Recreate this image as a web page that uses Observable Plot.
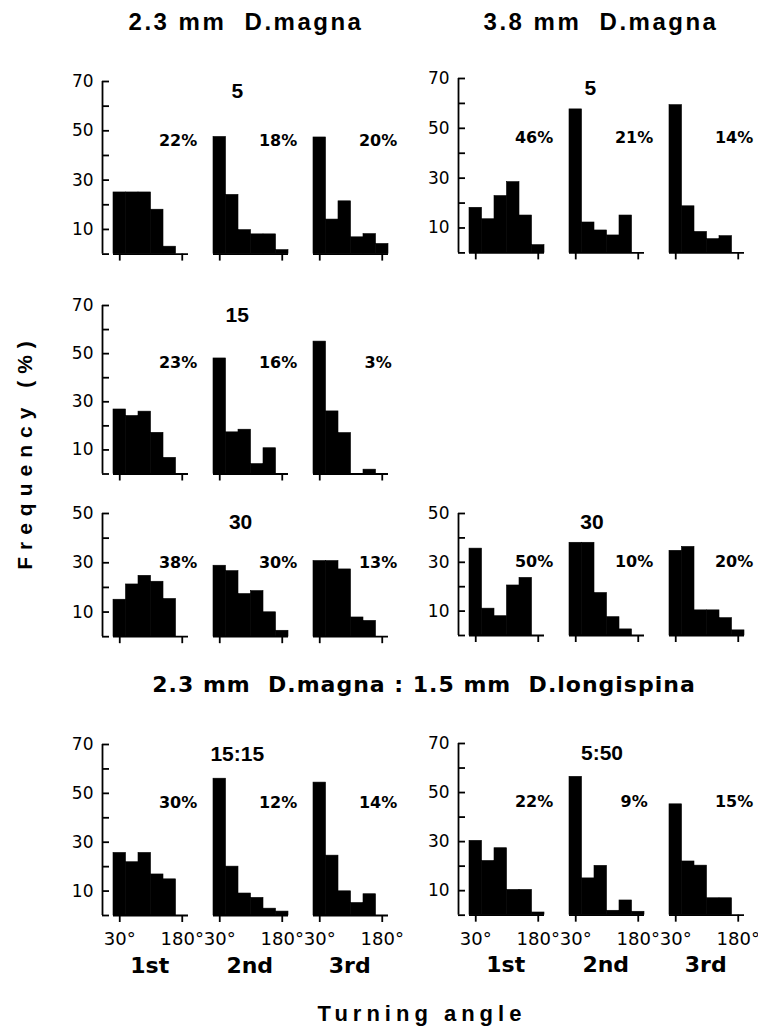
<!DOCTYPE html>
<html><head><meta charset="utf-8">
<script src="https://cdn.jsdelivr.net/npm/d3@7"></script>
<script src="https://cdn.jsdelivr.net/npm/@observablehq/plot@0.6"></script>
<style>
body{margin:0;background:#fff;}
#root{position:relative;width:758px;height:1031px;overflow:hidden;background:#fff;color:#000;}
.lbl{position:absolute;white-space:pre;font-weight:bold;line-height:1;transform:translate(-50%,-50%);}
.panel{position:absolute;}
.panel svg{max-width:none !important;}
</style></head><body><div id="root"></div>
<script>
// ---- data ----
const angles = [30, 60, 90, 120, 150, 180];
const turns = ["1st", "2nd", "3rd"];

const magna23_5  = [[25, 25, 25, 18, 3, 0], [47.5, 24, 9.7, 8, 8, 1.6], [47.3, 14, 21.4, 6.8, 8.1, 4.1]];
const magna38_5  = [[18.1, 13.5, 22.8, 28.4, 15, 3.1], [57.6, 12.2, 9, 7, 15, 0], [59.3, 18.7, 8.4, 5.5, 6.7, 0]];
const magna23_15 = [[26.8, 24.1, 25.9, 17.1, 6.7, 0], [48, 17.3, 18.4, 4.1, 10.7, 0], [55, 26, 17, 0, 1.8, 0]];
const magna23_30 = [[15, 21.2, 24.7, 22.3, 15.3, 0], [28.8, 26.6, 17.3, 18.5, 9.9, 2.4], [30.7, 30.7, 27.3, 7.8, 6.4, 0]];
const magna38_30 = [[35.6, 11, 7.9, 20.5, 23.6, 0], [38, 38, 17.4, 7.5, 2.5, 0], [34.7, 36.3, 10.3, 10.3, 7.1, 2.1]];
const mix15_15   = [[25.6, 21.8, 25.6, 16.8, 14.8, 0], [56, 20, 9, 7.2, 2.8, 1.6], [54.4, 24.5, 9.9, 5.1, 8.7, 0]];
const mix5_50    = [[30.3, 22.1, 27.3, 10.3, 10.3, 1.1], [56.4, 15, 20.1, 1.8, 6, 1.4], [45.2, 21.9, 20.2, 6.9, 6.9, 0]];

const pct23_5  = ["22%", "18%", "20%"];
const pct38_5  = ["46%", "21%", "14%"];
const pct23_15 = ["23%", "16%", "3%"];
const pct23_30 = ["38%", "30%", "13%"];
const pct38_30 = ["50%", "10%", "20%"];
const pct15_15 = ["30%", "12%", "14%"];
const pct5_50  = ["22%", "9%", "15%"];

const angleTicks = [30, 180];
const angleTickLabels = ["30°", "180°"];

// ---- layout ----
const panels = [
  {values: magna23_5,  pct: pct23_5,  title: "5",     ymax: 70, axisX: 102, top: 80.7, bottom: 253.3, titleX: 72, bottomRow: false},
  {values: magna38_5,  pct: pct38_5,  title: "5",     ymax: 70, axisX: 458, top: 78.3, bottom: 252.7, titleX: 65, bottomRow: false},
  {values: magna23_15, pct: pct23_15, title: "15",    ymax: 70, axisX: 102, top: 305,  bottom: 473.5, titleX: 72, bottomRow: false},
  {values: magna23_30, pct: pct23_30, title: "30",    ymax: 50, axisX: 102, top: 513.3, bottom: 636.5, titleX: 80, bottomRow: false},
  {values: magna38_30, pct: pct38_30, title: "30",    ymax: 50, axisX: 458, top: 513.3, bottom: 635.3, titleX: 69, bottomRow: false},
  {values: mix15_15,   pct: pct15_15, title: "15:15", ymax: 70, axisX: 102, top: 744,  bottom: 915,   titleX: 72, bottomRow: true},
  {values: mix5_50,    pct: pct5_50,  title: "5:50",  ymax: 70, axisX: 458, top: 743.3, bottom: 915,  titleX: 93, bottomRow: true}
];

const root = document.getElementById("root");
const k = 75 / 180;            // px per degree
const gap = 11;                // px between y axis and first bin
const xmin = 15 - gap / k;
const tickLen = 7 / k;
const mL = 50, mR = 30, mT = 12;

for (const p of panels) {
  const frameH = p.bottom - p.top;
  const mB = p.bottomRow ? 80 : 16;
  const W = mL + 286 + mR, H = mT + frameH + mB;
  const bars = p.values.flatMap((vals, i) => vals.map((v, j) => ({turn: turns[i], angle: angles[j], value: v})));
  const pctData = p.pct.map((t, i) => ({turn: turns[i], text: t}));
  const yTicks = d3.range(0, p.ymax + 1, 10);
  const tickRows = yTicks.map(v => ({turn: "1st", v}));
  const labY = p.ymax === 70 ? 46 : 30;
  const titleY = p.ymax === 70 ? 66 : 46.5;
  const chart = Plot.plot({
    width: W,
    height: H,
    marginLeft: mL, marginRight: mR, marginTop: mT, marginBottom: mB,
    style: {background: "transparent", overflow: "visible", fontFamily: "DejaVu Sans", color: "black", maxWidth: "none"},
    fx: {domain: turns, paddingInner: 0.14, paddingOuter: 0, round: false, axis: null},
    x: {domain: [xmin, 195]},
    y: {domain: [0, p.ymax]},
    marks: [
      Plot.rectY(bars, {fx: "turn", x1: d => d.angle - 15, x2: d => d.angle + 15, y: "value", fill: "black", stroke: "black", strokeWidth: 0.6}),
      Plot.ruleY([0], {x1: 15, x2: 195, strokeWidth: 1.8}),
      Plot.ruleX([{turn: "1st"}], {fx: "turn", x: xmin, y1: 0, y2: p.ymax, strokeWidth: 1.8}),
      Plot.ruleY(tickRows, {fx: "turn", y: "v", x1: xmin, x2: xmin + tickLen, strokeWidth: 1.8}),
      Plot.axisY({ticks: yTicks, label: null, tickSize: 0, tickPadding: 9, fontSize: 17,
        tickFormat: d => (d / 10) % 2 === 1 ? String(d) : ""}),
      Plot.axisX({ticks: angleTicks, label: null, tickSize: 7, tickPadding: 10, strokeWidth: 1.8, fontSize: 18,
        tickFormat: d => p.bottomRow ? angleTickLabels[angleTicks.indexOf(d)] : ""}),
      Plot.text(pctData, {fx: "turn", x: 170, y: labY, text: "text", fontSize: 16, fontWeight: "bold"}),
      Plot.text([{turn: "2nd", text: p.title}], {fx: "turn", x: p.titleX, y: titleY, text: "text",
        fontSize: 21, fontWeight: "bold", fontFamily: "Liberation Sans"}),
      p.bottomRow ? Plot.text(turns, {fx: d => d, x: 102, frameAnchor: "bottom", dy: 57, text: d => d,
        fontSize: 22, fontWeight: "bold"}) : null
    ]
  });
  const wrap = document.createElement("div");
  wrap.className = "panel";
  wrap.style.left = (p.axisX - mL) + "px";
  wrap.style.top = (p.top - mT) + "px";
  wrap.style.width = W + "px";
  wrap.style.height = H + "px";
  wrap.appendChild(chart);
  root.appendChild(wrap);
}

// ---- titles ----
function label(text, x, y, css) {
  const d = document.createElement("div");
  d.className = "lbl";
  d.textContent = text;
  d.style.left = x + "px";
  d.style.top = y + "px";
  Object.assign(d.style, css);
  root.appendChild(d);
  return d;
}
label("2.3 mm  D.magna", 246, 22, {fontFamily: "Liberation Sans", fontSize: "24px", letterSpacing: "2.5px"});
label("3.8 mm  D.magna", 601, 22, {fontFamily: "Liberation Sans", fontSize: "24px", letterSpacing: "2.5px"});
label("2.3 mm  D.magna : 1.5 mm  D.longispina", 424, 685, {fontFamily: "DejaVu Sans", fontSize: "22px", letterSpacing: "1px"});
label("Turning angle", 422, 1014, {fontFamily: "Liberation Sans", fontSize: "22px", letterSpacing: "5px"});
const fy = label("Frequency (%)", 24, 452, {fontFamily: "Liberation Sans", fontSize: "21px", letterSpacing: "7px"});
fy.style.transform = "translate(-50%,-50%) rotate(-90deg)";
</script>
</body></html>
